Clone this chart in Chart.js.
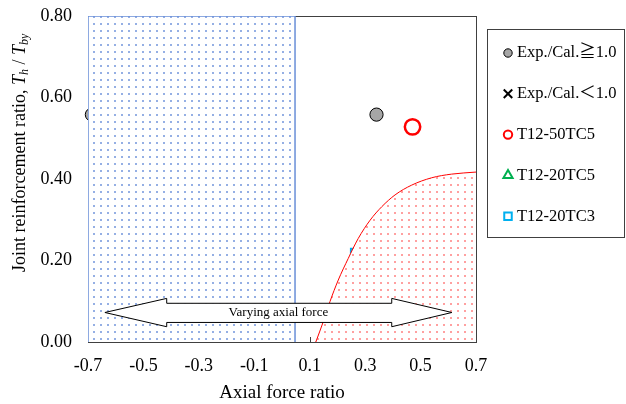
<!DOCTYPE html>
<html>
<head>
<meta charset="utf-8">
<script src="https://cdn.jsdelivr.net/npm/chart.js@4.4.1/dist/chart.umd.min.js"></script>
<style>
    body { margin: 0; background: #ffffff; }
    #wrap { width: 626px; height: 404px; }
</style>
</head>
<body>
<div id="wrap"><canvas id="myChart" width="626" height="404"></canvas></div>
<script>
// ejes
const xTicks = [-0.7, -0.5, -0.3, -0.1, 0.1, 0.3, 0.5, 0.7];
const yTicks = [0, 0.2, 0.4, 0.6, 0.8];

// puntos
const okX = [-0.686, 0.341];
const okY = [0.558, 0.558];
const ngX = [];
const ngY = [];
const t50tc5X = [0.471];
const t50tc5Y = [0.528];
const t20tc5X = [];
const t20tc5Y = [];
const t20tc3X = [0.265];
const t20tc3Y = [0.218];

// zona azul (carga axial variable)
const zoneX = [-0.7, 0.047];
const zoneY = [0, 0.8];

// curva limite (zona roja)
const curveX = [0.122, 0.149, 0.173, 0.203, 0.239, 0.275, 0.318, 0.360, 0.408, 0.468, 0.540, 0.612, 0.7];
const curveY = [0, 0.050, 0.099, 0.152, 0.205, 0.254, 0.299, 0.332, 0.361, 0.385, 0.403, 0.412, 0.417];

// flecha "Varying axial force": x = punta izq, base cabeza izq, base cabeza der, punta der
const arrowX = [-0.639, -0.416, 0.396, 0.613];
// y = cabeza abajo, cuerpo abajo, punta, cuerpo arriba, cabeza arriba
const arrowY = [0.0375, 0.048, 0.0724, 0.095, 0.107];

const SERIF = "'Liberation Serif', 'Times New Roman', 'Noto Sans CJK JP', serif";

function pts(xs, ys) {
    return xs.map((v, i) => ({ x: v, y: ys[i] }));
}

function dots(color) {
    const c = document.createElement('canvas');
    c.width = 7;
    c.height = 7;
    const g = c.getContext('2d');
    g.fillStyle = '#ffffff';
    g.fillRect(0, 0, 7, 7);
    g.fillStyle = color;
    g.fillRect(2, 2, 2, 2);
    return g.createPattern(c, 'repeat');
}

// marco del area y marcas hacia dentro
const framePlugin = {
    id: 'frame',
    beforeDatasetsDraw(chart) {
        const { ctx, chartArea: a, scales } = chart;
        ctx.save();
        ctx.strokeStyle = '#404040';
        ctx.lineWidth = 1;
        ctx.strokeRect(a.left + 0.5, a.top + 0.5, a.right - a.left, a.bottom - a.top);
        ctx.beginPath();
        xTicks.forEach(v => {
            const px = Math.round(scales.x.getPixelForValue(v)) + 0.5;
            ctx.moveTo(px, a.bottom);
            ctx.lineTo(px, a.bottom - 5);
        });
        yTicks.forEach(v => {
            const py = Math.round(scales.y.getPixelForValue(v)) + 0.5;
            ctx.moveTo(a.left, py);
            ctx.lineTo(a.left + 5, py);
        });
        ctx.stroke();
        ctx.restore();
    }
};

const arrowPlugin = {
    id: 'arrow',
    afterDatasetsDraw(chart) {
        const { ctx, scales } = chart;
        const px = arrowX.map(v => scales.x.getPixelForValue(v));
        const py = arrowY.map(v => scales.y.getPixelForValue(v));
        ctx.save();
        ctx.beginPath();
        ctx.moveTo(px[0], py[2]);
        ctx.lineTo(px[1], py[4]);
        ctx.lineTo(px[1], py[3]);
        ctx.lineTo(px[2], py[3]);
        ctx.lineTo(px[2], py[4]);
        ctx.lineTo(px[3], py[2]);
        ctx.lineTo(px[2], py[0]);
        ctx.lineTo(px[2], py[1]);
        ctx.lineTo(px[1], py[1]);
        ctx.lineTo(px[1], py[0]);
        ctx.closePath();
        ctx.fillStyle = '#ffffff';
        ctx.fill();
        ctx.strokeStyle = '#000000';
        ctx.lineWidth = 1;
        ctx.stroke();
        ctx.fillStyle = '#000000';
        ctx.font = '13px ' + SERIF;
        ctx.textAlign = 'center';
        ctx.textBaseline = 'middle';
        ctx.fillText('Varying axial force', (px[0] + px[3]) / 2, py[2]);
        ctx.restore();
    }
};

// titulo del eje y con cursiva y subindices
const yTitlePlugin = {
    id: 'yTitle',
    afterDraw(chart) {
        const { ctx, chartArea: a } = chart;
        const parts = [
            { t: 'Joint reinforcement ratio, ', it: false, sub: false },
            { t: 'T', it: true, sub: false },
            { t: 'h', it: true, sub: true },
            { t: ' / ', it: false, sub: false },
            { t: 'T', it: true, sub: false },
            { t: 'by', it: true, sub: true }
        ];
        ctx.save();
        ctx.translate(20, a.bottom - 70);
        ctx.rotate(-Math.PI / 2);
        ctx.fillStyle = '#000000';
        ctx.textBaseline = 'middle';
        ctx.textAlign = 'left';
        let x = 0;
        parts.forEach(p => {
            ctx.font = (p.it ? 'italic ' : '') + (p.sub ? '12px ' : '18px ') + SERIF;
            ctx.fillText(p.t, x, p.sub ? 5 : 0);
            x += ctx.measureText(p.t).width;
        });
        ctx.restore();
    }
};

// leyenda con recuadro
const legendPlugin = {
    id: 'legendBox',
    afterDraw(chart) {
        const { ctx, chartArea: a } = chart;
        const left = a.right + 11;
        const top = a.top + 13;
        const sizes = { circle: 4.2, crossRot: 6, triangle: 5.3, rect: 5.3 };
        ctx.save();
        ctx.strokeStyle = '#404040';
        ctx.lineWidth = 1;
        ctx.strokeRect(left + 0.5, top + 0.5, 137, 208);
        const items = chart.data.datasets.filter(ds => ds.label);
        items.forEach((ds, i) => {
            const cy = top + 24 + i * 40.8;
            ctx.fillStyle = ds.pointBackgroundColor;
            ctx.strokeStyle = ds.pointBorderColor;
            ctx.lineWidth = Math.min(ds.pointBorderWidth, 2);
            Chart.helpers.drawPoint(ctx, {
                pointStyle: ds.pointStyle,
                radius: sizes[ds.pointStyle],
                rotation: 0,
                borderWidth: ctx.lineWidth
            }, left + 21, cy);
            ctx.fillStyle = '#000000';
            ctx.font = '16.5px ' + SERIF;
            ctx.textAlign = 'left';
            ctx.textBaseline = 'middle';
            ctx.fillText(ds.label, left + 30, cy);
        });
        ctx.restore();
    }
};

const ctx = document.getElementById('myChart');
const myChart = new Chart(ctx, {
    type: 'scatter',
    data: {
        datasets: [{
            label: 'Exp./Cal.\u22671.0',
            data: pts(okX, okY),
            pointStyle: 'circle',
            pointRadius: 6.6,
            pointBackgroundColor: '#A6A6A6',
            pointBorderColor: '#000000',
            pointBorderWidth: 1,
            clip: false,
            order: 10
        },
        {
            label: 'Exp./Cal.\uFF1C1.0',
            data: pts(ngX, ngY),
            pointStyle: 'crossRot',
            pointRadius: 6,
            pointBackgroundColor: '#000000',
            pointBorderColor: '#000000',
            pointBorderWidth: 2.5,
            order: 10
        },
        {
            label: 'T12-50TC5',
            data: pts(t50tc5X, t50tc5Y),
            pointStyle: 'circle',
            pointRadius: 7.7,
            pointBackgroundColor: '#ffffff',
            pointBorderColor: '#FF0000',
            pointBorderWidth: 2.5,
            order: 10
        },
        {
            label: 'T12-20TC5',
            data: pts(t20tc5X, t20tc5Y),
            pointStyle: 'triangle',
            pointRadius: 7,
            pointBackgroundColor: '#ffffff',
            pointBorderColor: '#00B050',
            pointBorderWidth: 2,
            order: 10
        },
        {
            label: 'T12-20TC3',
            data: pts(t20tc3X, t20tc3Y),
            pointStyle: 'rect',
            pointRadius: 6.4,
            pointBackgroundColor: '#ffffff',
            pointBorderColor: '#00B0F0',
            pointBorderWidth: 2,
            order: 10
        },
        {
            // zona azul
            label: '',
            data: pts([zoneX[0], zoneX[0], zoneX[1], zoneX[1]], [zoneY[0], zoneY[1], zoneY[1], zoneY[0]]),
            showLine: true,
            fill: 'origin',
            backgroundColor: dots('#95AFE4'),
            borderColor: '#6A8FD8',
            borderWidth: 1.5,
            pointRadius: 0,
            order: 2
        },
        {
            label: '',
            data: pts(zoneX, [zoneY[0], zoneY[0]]),
            showLine: true,
            borderColor: '#6A8FD8',
            borderWidth: 1.5,
            pointRadius: 0,
            order: 2
        },
        {
            // zona roja
            label: '',
            data: pts(curveX, curveY),
            showLine: true,
            fill: 'origin',
            cubicInterpolationMode: 'monotone',
            backgroundColor: dots('#FFA0A0'),
            borderColor: '#FF0000',
            borderWidth: 1,
            pointRadius: 0,
            order: 1
        },
        {
            label: '',
            data: pts([curveX[curveX.length - 1], curveX[curveX.length - 1], curveX[0]],
                [curveY[curveY.length - 1], 0, 0]),
            showLine: true,
            borderColor: '#FF0000',
            borderWidth: 1.5,
            pointRadius: 0,
            order: 1
        }]
    },
    options: {
        responsive: false,
        animation: false,
        events: [],
        layout: {
            padding: { top: 16, right: 150, bottom: 0, left: 0 }
        },
        scales: {
            x: {
                type: 'linear',
                min: -0.7,
                max: 0.7,
                afterBuildTicks: scale => { scale.ticks = xTicks.map(v => ({ value: v })); },
                afterFit: scale => { scale.height = 62; },
                grid: { display: false, drawTicks: true, tickLength: 13 },
                border: { display: false },
                ticks: {
                    padding: 0,
                    color: '#000000',
                    font: { family: SERIF, size: 18 },
                    callback: v => v.toFixed(1)
                },
                title: {
                    display: true,
                    text: 'Axial force ratio',
                    color: '#000000',
                    font: { family: SERIF, size: 19 },
                    padding: { top: 0, bottom: 0 }
                }
            },
            y: {
                type: 'linear',
                min: 0,
                max: 0.8,
                afterBuildTicks: scale => { scale.ticks = yTicks.map(v => ({ value: v })); },
                afterFit: scale => { scale.width = 88; },
                grid: { display: false, drawTicks: true, tickLength: 16 },
                border: { display: false },
                ticks: {
                    padding: 0,
                    color: '#000000',
                    font: { family: SERIF, size: 18 },
                    callback: v => v.toFixed(2)
                }
            }
        },
        plugins: {
            legend: { display: false },
            tooltip: { enabled: false }
        }
    },
    plugins: [framePlugin, arrowPlugin, yTitlePlugin, legendPlugin]
});
</script>
</body>
</html>
